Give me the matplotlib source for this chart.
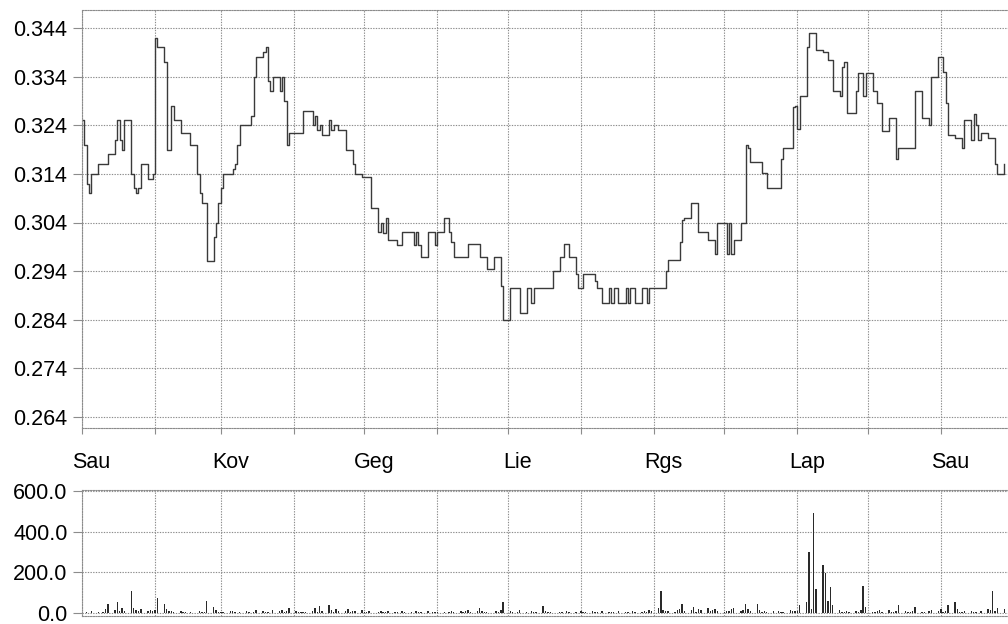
import matplotlib
matplotlib.use("Agg")
import matplotlib.pyplot as plt
import matplotlib.dates as mdates
import pandas as pd
import numpy as np

# ---- data (daily closing price and volume, business days from 2007-01-01) ----
price_jan = [0.325, 0.320, 0.312, 0.310, 0.314, 0.316, 0.316, 0.316, 0.316, 0.318, 0.321, 0.325,
             0.321, 0.319, 0.325, 0.314, 0.311, 0.310, 0.311, 0.316, 0.313, 0.313, 0.314]
price_feb = [0.342, 0.340, 0.337, 0.319, 0.319, 0.328, 0.325, 0.3225, 0.3225, 0.3225, 0.3225,
             0.320, 0.314, 0.310, 0.308, 0.308, 0.296, 0.301, 0.304, 0.308]
price_mar = [0.311, 0.314, 0.314, 0.315, 0.316, 0.320, 0.324, 0.324, 0.324, 0.326, 0.334,
             0.338, 0.339, 0.340, 0.333, 0.331, 0.334, 0.331, 0.334, 0.329, 0.320, 0.3224]
price_apr = [0.3224, 0.3224, 0.3224, 0.327, 0.327, 0.324, 0.326, 0.323, 0.324, 0.322, 0.325,
             0.323, 0.324, 0.324, 0.323, 0.319, 0.319, 0.319, 0.316, 0.314, 0.3133]
price_may = [0.3133, 0.3133, 0.3133, 0.307, 0.302, 0.304, 0.3018, 0.305, 0.3003, 0.3003, 0.2993,
             0.2993, 0.302, 0.302, 0.302, 0.2993, 0.302, 0.2993, 0.297, 0.302, 0.302, 0.302, 0.2993]
price_jun = [0.302, 0.3049, 0.3049, 0.302, 0.300, 0.297, 0.297, 0.297, 0.297, 0.2995, 0.2995,
             0.2995, 0.297, 0.297, 0.297, 0.2945, 0.297, 0.297, 0.297, 0.291, 0.284]
price_jul = [0.2905, 0.2905, 0.2905, 0.2905, 0.2853, 0.2905, 0.2905, 0.2875, 0.2905, 0.2905, 0.2905,
             0.2905, 0.2905, 0.2905, 0.294, 0.297, 0.297, 0.2995, 0.2995, 0.297, 0.2935, 0.2905]
price_aug = [0.2905, 0.2935, 0.2935, 0.2935, 0.292, 0.2905, 0.2905, 0.2875, 0.2905, 0.2875, 0.2905,
             0.2905, 0.2875, 0.2905, 0.2875, 0.2905, 0.2905, 0.2875, 0.2905, 0.2905, 0.2875, 0.2905, 0.2905]
price_sep = [0.2905, 0.2905, 0.2905, 0.294, 0.2963, 0.2963, 0.2963, 0.300, 0.3045, 0.305, 0.308,
             0.308, 0.308, 0.302, 0.302, 0.3003, 0.3003, 0.3003, 0.2975, 0.304]
price_oct = [0.304, 0.2975, 0.304, 0.2975, 0.3003, 0.304, 0.304, 0.320, 0.3193, 0.3164, 0.3164,
             0.3164, 0.3142, 0.3142, 0.311, 0.311, 0.311, 0.311, 0.317, 0.3193, 0.3193, 0.3278, 0.328]
price_nov = [0.3232, 0.330, 0.340, 0.343, 0.343, 0.343, 0.3395, 0.339, 0.339, 0.3374, 0.3374,
             0.331, 0.330, 0.336, 0.337, 0.3265, 0.3265, 0.331, 0.3348, 0.3348, 0.330, 0.3348]
price_dec = [0.331, 0.331, 0.3285, 0.3285, 0.3228, 0.3255, 0.3255, 0.3255, 0.317, 0.3193, 0.3193,
             0.3193, 0.3193, 0.3193, 0.331, 0.3255, 0.3255, 0.3255, 0.324, 0.334, 0.338]
price_jan2 = [0.338, 0.335, 0.3285, 0.322, 0.3213, 0.3213, 0.3213, 0.3193, 0.325, 0.321, 0.3263,
              0.324, 0.321, 0.3225, 0.3213, 0.3213, 0.3213, 0.316, 0.314, 0.316]

vol_jan = [0, 0, 3, 0, 8, 5, 0, 3, 20, 45, 15, 55, 10, 25, 10, 110, 25, 15, 10, 20, 8, 15, 10]
vol_feb = [15, 75, 45, 20, 10, 12, 5, 8, 5, 3, 2, 3, 0, 10, 5, 3, 60, 30, 15, 5]
vol_mar = [5, 3, 10, 8, 3, 2, 5, 10, 3, 2, 3, 15, 8, 5, 3, 2, 15, 10, 15, 5, 8, 25]
vol_apr = [10, 5, 3, 5, 3, 8, 25, 5, 35, 10, 40, 15, 5, 20, 8, 10, 20, 5, 10, 8, 15]
vol_may = [5, 3, 8, 2, 5, 10, 3, 5, 8, 3, 5, 2, 8, 5, 3, 2, 10, 5, 3, 8, 2, 5, 3]
vol_jun = [3, 5, 2, 3, 10, 5, 12, 3, 10, 15, 5, 8, 25, 10, 3, 5, 2, 8, 5, 15, 55]
vol_jul = [10, 3, 2, 5, 15, 3, 2, 8, 3, 5, 35, 10, 5, 3, 2, 5, 3, 2, 8, 3, 5, 2]
vol_aug = [8, 3, 5, 10, 3, 5, 2, 8, 3, 5, 3, 2, 10, 3, 5, 2, 8, 3, 5, 10, 3, 15, 8]
vol_sep = [25, 110, 15, 8, 10, 5, 15, 20, 45, 10, 15, 30, 5, 20, 15, 25, 10, 15, 20, 10]
vol_oct = [5, 10, 8, 20, 25, 10, 15, 45, 20, 10, 45, 15, 5, 10, 3, 8, 2, 10, 5, 3, 15, 8, 10]
vol_nov = [10, 40, 55, 300, 20, 490, 120, 235, 195, 60, 130, 40, 15, 5, 3, 10, 5, 8, 3, 15, 135, 30]
vol_dec = [5, 3, 8, 15, 5, 15, 3, 5, 10, 40, 8, 3, 5, 10, 30, 5, 3, 2, 8, 15, 10]
vol_jan2 = [20, 5, 10, 40, 55, 20, 3, 5, 8, 10, 3, 5, 2, 8, 20, 15, 110, 10, 25, 20]

month_labels = ["Sau", "Kov", "Geg", "Lie", "Rgs", "Lap", "Sau"]
label_months = ["2007-01-01", "2007-03-01", "2007-05-01", "2007-07-01",
                "2007-09-01", "2007-11-01", "2008-01-01"]
price_ticks = [0.264, 0.274, 0.284, 0.294, 0.304, 0.314, 0.324, 0.334, 0.344]
volume_ticks = [0.0, 200.0, 400.0, 600.0]

price = (price_jan + price_feb + price_mar + price_apr + price_may + price_jun + price_jul +
         price_aug + price_sep + price_oct + price_nov + price_dec + price_jan2)
volume = (vol_jan + vol_feb + vol_mar + vol_apr + vol_may + vol_jun + vol_jul +
          vol_aug + vol_sep + vol_oct + vol_nov + vol_dec + vol_jan2)
dates = pd.bdate_range("2007-01-01", periods=len(price))
vdates = pd.bdate_range("2007-01-01", periods=len(volume))

# ---- figure ----
plt.rcParams['font.family'] = ['Liberation Sans', 'DejaVu Sans']
W, H = 1008, 624
fig = plt.figure(figsize=(W / 100, H / 100), dpi=100)

def frac(x0, y0, x1, y1):
    return [x0 / W, 1 - y1 / H, (x1 - x0) / W, (y1 - y0) / H]

ax = fig.add_axes(frac(82, 10, 1008, 428))
axv = fig.add_axes(frac(82, 490, 1008, 616))

grid_kw = dict(color="#8c8c8c", linewidth=0.8, linestyle=(0, (1.2, 1.2)))
xmin = mdates.date2num(pd.Timestamp("2007-01-01"))
xmax = xmin + (1008 - 82) / 2.353
month_starts = pd.date_range("2007-01-01", "2008-01-01", freq="MS")

for a in (ax, axv):
    a.set_xlim(xmin, xmax)
    a.set_xticks(mdates.date2num(month_starts))
    a.tick_params(axis="x", which="major", labelbottom=False, length=4,
                  color="#8c8c8c", width=0.8, direction="out")
    a.tick_params(axis="y", which="major", length=6.5, color="#8c8c8c", width=0.8,
                  pad=4, labelsize=15.5, direction="out")
    a.grid(True, which="major", **grid_kw)
    a.set_axisbelow(True)
    for s in ("top", "left", "bottom"):
        a.spines[s].set_color("#8c8c8c")
        a.spines[s].set_linewidth(0.8)
        a.spines[s].set_linestyle((0, (1.2, 1.2)))
    a.spines["right"].set_visible(False)

# price line
ax.plot(mdates.date2num(dates), price, drawstyle="steps-post", color="#3a3a3a", linewidth=1.0)
ax.set_ylim(0.264 - 11 / 4862.5, 0.344 + 18 / 4862.5)
ax.set_yticks(price_ticks)
ax.set_yticklabels([f"{t:.3f}" for t in price_ticks])

# month labels as minor ticks
lab_pos = mdates.date2num(pd.to_datetime(label_months)) + 4
ax.set_xticks(lab_pos, minor=True)
ax.set_xticklabels(month_labels, minor=True)
ax.tick_params(axis="x", which="minor", length=0, pad=17, labelsize=15.5)

# volume bars
axv.bar(mdates.date2num(vdates), volume, width=0.6, color="#2a2a2a", linewidth=0)
axv.set_ylim(-600 * 3 / 122, 600 + 600 * 1 / 122)
axv.set_yticks(volume_ticks)
axv.set_yticklabels([f"{t:.1f}" for t in volume_ticks])
axv.tick_params(axis="x", which="major", length=0)

fig.savefig("out.png", dpi=100)
